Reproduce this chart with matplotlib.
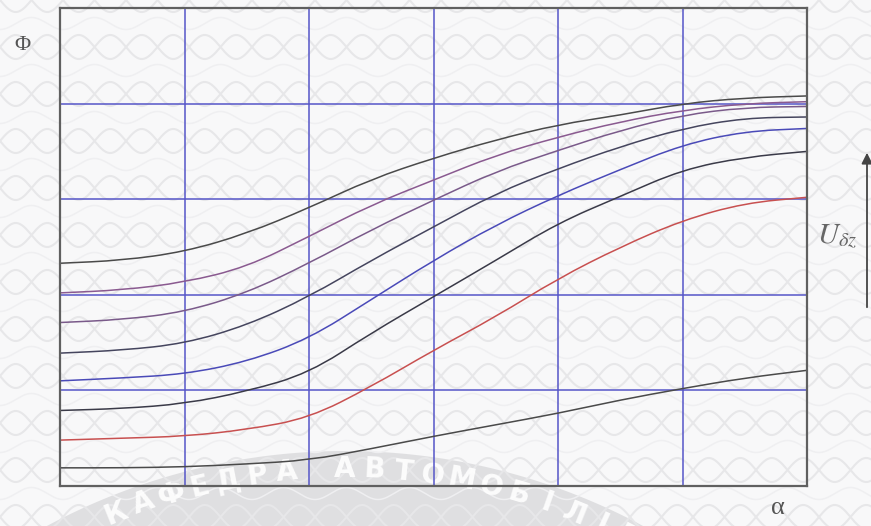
import numpy as np
import matplotlib
matplotlib.use("Agg")
import matplotlib.pyplot as plt
from matplotlib.path import Path
from matplotlib.patches import PathPatch

plt.rcParams['mathtext.fontset'] = 'stix'

# alpha in grid units, 0..6
alpha = [0, 0.5, 1, 1.5, 2, 2.5, 3, 3.5, 4, 4.5, 5, 5.5, 6]

# flux curves, one per U_dz level (top to bottom)
phi_1 = [2.33, 2.36, 2.45, 2.64, 2.91, 3.21, 3.43, 3.62, 3.78, 3.88, 4.00, 4.06, 4.08]
phi_2 = [2.02, 2.05, 2.13, 2.29, 2.61, 2.94, 3.20, 3.46, 3.65, 3.81, 3.93, 4.00, 4.02]
phi_3 = [1.71, 1.74, 1.82, 2.02, 2.33, 2.68, 2.99, 3.29, 3.51, 3.72, 3.88, 3.96, 3.97]
phi_4 = [1.39, 1.42, 1.49, 1.68, 1.98, 2.36, 2.71, 3.06, 3.32, 3.55, 3.74, 3.85, 3.86]
phi_5 = [1.10, 1.13, 1.17, 1.30, 1.54, 1.95, 2.36, 2.73, 3.04, 3.31, 3.57, 3.71, 3.74]
phi_6 = [0.79, 0.81, 0.86, 0.99, 1.18, 1.60, 1.98, 2.36, 2.75, 3.03, 3.31, 3.44, 3.50]
phi_7 = [0.48, 0.50, 0.52, 0.59, 0.71, 1.04, 1.42, 1.77, 2.17, 2.50, 2.78, 2.96, 3.02]
phi_8 = [0.19, 0.19, 0.20, 0.23, 0.27, 0.39, 0.52, 0.64, 0.76, 0.90, 1.02, 1.13, 1.21]

curves = [phi_1, phi_2, phi_3, phi_4, phi_5, phi_6, phi_7, phi_8]
colors = ['#4a4a4a', '#8a5a90', '#7a5a8a', '#45455e', '#4a4ab8', '#3a3a48', '#c85050', '#4a4a4a']

watermark = "КАФЕДРА АВТОМОБІЛІВ"


def smooth_path(xs, ys):
    # quadratic bezier chain: data points act as control points
    pts = list(zip(xs, ys))
    verts = [pts[0]]
    codes = [Path.MOVETO]
    mid = lambda p, q: ((p[0] + q[0]) / 2, (p[1] + q[1]) / 2)
    verts.append(mid(pts[0], pts[1]))
    codes.append(Path.LINETO)
    for i in range(1, len(pts) - 1):
        verts += [pts[i], mid(pts[i], pts[i + 1])]
        codes += [Path.CURVE3, Path.CURVE3]
    verts.append(pts[-1])
    codes.append(Path.LINETO)
    return Path(verts, codes)


W, H = 871, 526
fig = plt.figure(figsize=(W / 100, H / 100), dpi=100)
fig.patch.set_facecolor('#f8f8f9')

# background layer in pixel coords (y down)
bg = fig.add_axes([0, 0, 1, 1], zorder=0)
bg.set_xlim(0, W)
bg.set_ylim(H, 0)
bg.axis('off')

xx = np.linspace(0, W, 800)
P, A, step = 63.0, 12.0, 47.0
for k in range(-1, 14):
    y0 = k * step
    bg.plot(xx, y0 + A * np.sin(2 * np.pi * xx / P), color='#e7e7e9', lw=1.5)
    bg.plot(xx, y0 - A * np.sin(2 * np.pi * xx / P), color='#e7e7e9', lw=1.5)
    bg.plot(xx, y0 + step / 2 + 0.5 * A * np.cos(2 * np.pi * xx / P), color='#efeff1', lw=1.1)

# grey arc band with lettering
cx, cy = 345, 1081
th = np.linspace(np.radians(-150), np.radians(-40), 240)
r_out, r_in = 630, 555
band_x = np.concatenate([cx + r_out * np.cos(th), cx + r_in * np.cos(th[::-1])])
band_y = np.concatenate([cy + r_out * np.sin(th), cy + r_in * np.sin(th[::-1])])
bg.fill(band_x, band_y, color='#b4b4b8', alpha=0.36, lw=0)

r_txt = 612
a0, da = np.radians(-112.0), np.radians(2.75)
for i, ch in enumerate(watermark):
    a = a0 + i * da
    tx, ty = cx + r_txt * np.cos(a), cy + r_txt * np.sin(a)
    rot = -(np.degrees(a) + 90)
    bg.text(tx, ty, ch, fontsize=20, fontweight='bold', color='white', alpha=0.9,
            ha='center', va='center', rotation=rot, rotation_mode='anchor')

ax = fig.add_axes([60 / W, 1 - 486 / H, 747 / W, 478 / H], zorder=1)
ax.set_facecolor('none')
ax.set_xlim(0, 6)
ax.set_ylim(0, 5)

for v in range(1, 6):
    ax.axvline(v, color='#5656c8', lw=1.1, zorder=1)
for v in range(1, 5):
    ax.axhline(v, color='#5656c8', lw=1.1, zorder=1)

for phi, c in zip(curves, colors):
    ax.add_patch(PathPatch(smooth_path(alpha, phi), facecolor='none',
                           edgecolor=c, lw=1.1, zorder=2))

for s in ax.spines.values():
    s.set_color('#606060')
    s.set_linewidth(1.6)
ax.set_xticks([])
ax.set_yticks([])

fig.text(22 / W, 1 - 46 / H, 'Φ', family='Liberation Serif', fontsize=16,
         color='#555555', ha='center', va='center')
fig.text(778 / W, 1 - 508 / H, 'α', family='Liberation Serif', fontsize=19,
         color='#555555', ha='center', va='center')
fig.text(837 / W, 1 - 237 / H, r'$U_{\delta z}$', fontsize=21,
         color='#666666', ha='center', va='center')

# U_dz direction arrow at the right edge
bg.annotate('', xy=(867, 150), xytext=(867, 310),
            arrowprops=dict(arrowstyle='-|>', color='#444444', lw=1.3,
                            mutation_scale=16))

fig.savefig('out.png', dpi=100, facecolor=fig.get_facecolor())
